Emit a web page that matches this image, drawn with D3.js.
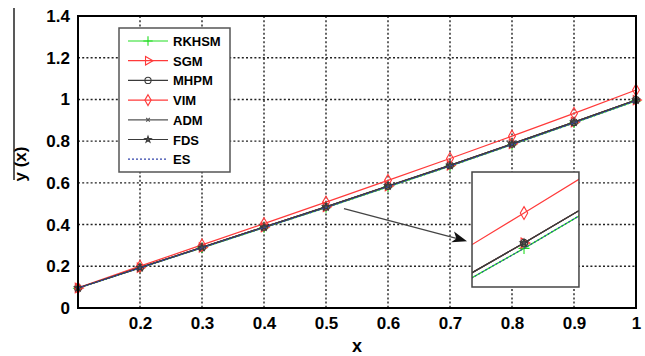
<!DOCTYPE html>
<html>
<head>
<meta charset="utf-8">
<script src="https://cdn.jsdelivr.net/npm/d3@7"></script>
<style>
  body { margin: 0; background: #fff; }
  svg text { font-family: "Liberation Sans", Arial, sans-serif; font-weight: bold; fill: #000; }
</style>
</head>
<body>
<div id="chart"></div>
<script>
// data
var xValues = [0.1, 0.2, 0.3, 0.4, 0.5, 0.6, 0.7, 0.8, 0.9, 1.0];
var rkhsm = [0.0950, 0.1920, 0.2885, 0.3850, 0.4810, 0.5810, 0.6800, 0.7830, 0.8870, 0.9930];
var sgm   = [0.0960, 0.1935, 0.2905, 0.3880, 0.4850, 0.5850, 0.6840, 0.7870, 0.8910, 0.9970];
var mhpm  = [0.0960, 0.1935, 0.2905, 0.3880, 0.4850, 0.5850, 0.6840, 0.7870, 0.8910, 0.9970];
var vim   = [0.0965, 0.2005, 0.3025, 0.4045, 0.5075, 0.6120, 0.7170, 0.8240, 0.9330, 1.0450];
var adm   = [0.0960, 0.1935, 0.2905, 0.3880, 0.4850, 0.5850, 0.6840, 0.7870, 0.8910, 0.9970];
var fds   = [0.0960, 0.1935, 0.2905, 0.3880, 0.4850, 0.5850, 0.6840, 0.7870, 0.8910, 0.9970];
var es    = [0.0950, 0.1920, 0.2885, 0.3850, 0.4810, 0.5810, 0.6800, 0.7830, 0.8870, 0.9930];

var xTicks = [0.2, 0.3, 0.4, 0.5, 0.6, 0.7, 0.8, 0.9, 1.0];
var yTicks = [0, 0.2, 0.4, 0.6, 0.8, 1.0, 1.2, 1.4];
var xGrid = [0.2, 0.3, 0.4, 0.5, 0.6, 0.7, 0.8, 0.9];
var yGrid = [0.2, 0.4, 0.6, 0.8, 1.0, 1.2];

// zoomed window (inset) and where it sits on the chart, in data units
var insetXDomain = [0.477, 0.5243];
var insetYDomain = [0.452, 0.5383];
var insetBoxX = [0.7355, 0.908];
var insetBoxY = [0.1007, 0.652];
var insetPointX = 0.5;

var series = [
  { name: "RKHSM", values: rkhsm, color: "#22dd22", width: 1.2, dash: null, marker: "plus" },
  { name: "SGM",   values: sgm,   color: "#ff3a3a", width: 1.2, dash: null, marker: "triangle" },
  { name: "MHPM",  values: mhpm,  color: "#3a3a3a", width: 1.2, dash: null, marker: "circle" },
  { name: "VIM",   values: vim,   color: "#ff3a3a", width: 1.2, dash: null, marker: "diamond" },
  { name: "ADM",   values: adm,   color: "#555555", width: 1.2, dash: null, marker: "times" },
  { name: "FDS",   values: fds,   color: "#3a3a3a", width: 1.2, dash: null, marker: "star" },
  { name: "ES",    values: es,    color: "#3344aa", width: 1.2, dash: "2,2", marker: null }
];

var W = 645, H = 356;
var margin = { top: 16, right: 9, bottom: 48, left: 78 };
var pw = W - margin.left - margin.right;
var ph = H - margin.top - margin.bottom;

var x = d3.scaleLinear().domain([0.1, 1]).range([margin.left, margin.left + pw]);
var y = d3.scaleLinear().domain([0, 1.4]).range([margin.top + ph, margin.top]);

var svg = d3.select("#chart").append("svg")
    .attr("width", W)
    .attr("height", H);

function markerPath(kind, size) {
  var t = {
    plus: d3.symbolPlus || d3.symbolCross,
    triangle: d3.symbolTriangle,
    circle: d3.symbolCircle,
    diamond: d3.symbolDiamond,
    times: d3.symbolTimes || d3.symbolCross,
    star: d3.symbolStar
  }[kind];
  return d3.symbol().type(t).size(size)();
}

var sizes = { plus: 30, triangle: 32, circle: 30, diamond: 34, times: 10, star: 12 };

function drawMarker(g, kind, cx, cy, color, scale) {
  var p = g.append("path")
      .attr("d", markerPath(kind, sizes[kind] * (scale || 1)))
      .attr("fill", kind === "star" ? "#555" : "none")
      .attr("stroke", color)
      .attr("stroke-width", 1.1);
  if (kind === "triangle") {
    p.attr("transform", "translate(" + cx + "," + cy + ") rotate(90)");
  } else {
    p.attr("transform", "translate(" + cx + "," + cy + ")");
  }
}

// grid
var grid = svg.append("g")
    .attr("stroke", "#222")
    .attr("stroke-width", 1.4)
    .attr("stroke-dasharray", "2,2.2");
grid.selectAll(".gx").data(xGrid).enter().append("line")
    .attr("x1", function (d) { return x(d); })
    .attr("x2", function (d) { return x(d); })
    .attr("y1", margin.top)
    .attr("y2", margin.top + ph);
grid.selectAll(".gy").data(yGrid).enter().append("line")
    .attr("y1", function (d) { return y(d); })
    .attr("y2", function (d) { return y(d); })
    .attr("x1", margin.left)
    .attr("x2", margin.left + pw);

// series
var line = d3.line()
    .x(function (d, i) { return x(xValues[i]); })
    .y(function (d) { return y(d); });

series.forEach(function (s) {
  svg.append("path")
      .attr("d", line(s.values))
      .attr("fill", "none")
      .attr("stroke", s.color)
      .attr("stroke-width", s.width)
      .attr("stroke-dasharray", s.dash);
  if (s.marker) {
    var mg = svg.append("g");
    s.values.forEach(function (v, i) {
      drawMarker(mg, s.marker, x(xValues[i]), y(v), s.color, 1.2);
    });
  }
});

// frame
svg.append("rect")
    .attr("x", margin.left)
    .attr("y", margin.top)
    .attr("width", pw)
    .attr("height", ph)
    .attr("fill", "none")
    .attr("stroke", "#000")
    .attr("stroke-width", 2);

// axes
var xAxis = svg.append("g")
    .attr("transform", "translate(0," + (margin.top + ph) + ")")
    .call(d3.axisBottom(x).tickValues(xTicks).tickSize(0).tickPadding(9)
      .tickFormat(function (d) { return d === 1 ? "1" : d.toFixed(1); }));
xAxis.select(".domain").remove();
xAxis.selectAll("text").style("font-size", "17px");

var yAxis = svg.append("g")
    .attr("transform", "translate(" + margin.left + ",0)")
    .call(d3.axisLeft(y).tickValues(yTicks).tickSize(0).tickPadding(8)
      .tickFormat(function (d) { return (d === 0 || d === 1) ? String(d) : d.toFixed(1); }));
yAxis.select(".domain").remove();
yAxis.selectAll("text").style("font-size", "17px");

svg.append("text")
    .attr("x", margin.left + pw / 2)
    .attr("y", 352)
    .attr("text-anchor", "middle")
    .style("font-size", "18px")
    .text("x");

svg.append("text")
    .attr("transform", "translate(26,164) rotate(-90)")
    .attr("text-anchor", "middle")
    .style("font-size", "17px")
    .text("y (x)");

svg.append("line")
    .attr("x1", 14).attr("x2", 14)
    .attr("y1", 8).attr("y2", 180)
    .attr("stroke", "#222")
    .attr("stroke-width", 1.5);

// legend
var legend = svg.append("g").attr("transform", "translate(119,28)");
legend.append("rect")
    .attr("width", 111)
    .attr("height", 144)
    .attr("fill", "#fff")
    .attr("stroke", "#555")
    .attr("stroke-width", 1.5);
series.forEach(function (s, i) {
  var ly = 13 + i * 19.7;
  legend.append("line")
      .attr("x1", 9).attr("x2", 49)
      .attr("y1", ly).attr("y2", ly)
      .attr("stroke", s.color)
      .attr("stroke-width", s.width)
      .attr("stroke-dasharray", s.dash);
  if (s.marker) drawMarker(legend, s.marker, 29, ly, s.color);
  legend.append("text")
      .attr("x", 54)
      .attr("y", ly + 5)
      .style("font-size", "13px")
      .text(s.name);
});

// zoom inset
var ix = d3.scaleLinear().domain(insetXDomain).range([x(insetBoxX[0]), x(insetBoxX[1])]);
var iy = d3.scaleLinear().domain(insetYDomain).range([y(insetBoxY[0]), y(insetBoxY[1])]);

svg.append("clipPath").attr("id", "insetClip")
  .append("rect")
    .attr("x", x(insetBoxX[0]))
    .attr("y", y(insetBoxY[1]))
    .attr("width", x(insetBoxX[1]) - x(insetBoxX[0]))
    .attr("height", y(insetBoxY[0]) - y(insetBoxY[1]));

svg.append("rect")
    .attr("x", x(insetBoxX[0]))
    .attr("y", y(insetBoxY[1]))
    .attr("width", x(insetBoxX[1]) - x(insetBoxX[0]))
    .attr("height", y(insetBoxY[0]) - y(insetBoxY[1]))
    .attr("fill", "#fff");

var inset = svg.append("g").attr("clip-path", "url(#insetClip)");
var iline = d3.line()
    .x(function (d, i) { return ix(xValues[i]); })
    .y(function (d) { return iy(d); });
var pi = xValues.indexOf(insetPointX);
series.forEach(function (s) {
  inset.append("path")
      .attr("d", iline(s.values))
      .attr("fill", "none")
      .attr("stroke", s.color)
      .attr("stroke-width", s.width)
      .attr("stroke-dasharray", s.dash);
  if (s.marker) drawMarker(inset, s.marker, ix(xValues[pi]), iy(s.values[pi]), s.color, 1.4);
});

svg.append("rect")
    .attr("x", x(insetBoxX[0]))
    .attr("y", y(insetBoxY[1]))
    .attr("width", x(insetBoxX[1]) - x(insetBoxX[0]))
    .attr("height", y(insetBoxY[0]) - y(insetBoxY[1]))
    .attr("fill", "none")
    .attr("stroke", "#444")
    .attr("stroke-width", 1.5);

// arrow from the zoomed point to the inset
var ax0 = x(0.529), ay0 = y(0.476);
var ax1 = x(insetBoxX[0]) - 5, ay1 = y(0.32);
var ang = Math.atan2(ay1 - ay0, ax1 - ax0);
svg.append("line")
    .attr("x1", ax0).attr("y1", ay0)
    .attr("x2", ax1 - 10 * Math.cos(ang)).attr("y2", ay1 - 10 * Math.sin(ang))
    .attr("stroke", "#444")
    .attr("stroke-width", 1.3);
svg.append("path")
    .attr("d", "M0,0 L-15,-6 L-11,0 L-15,5 Z")
    .attr("fill", "#111")
    .attr("transform", "translate(" + ax1 + "," + ay1 + ") rotate(" + (ang * 180 / Math.PI) + ")");
</script>
</body>
</html>
